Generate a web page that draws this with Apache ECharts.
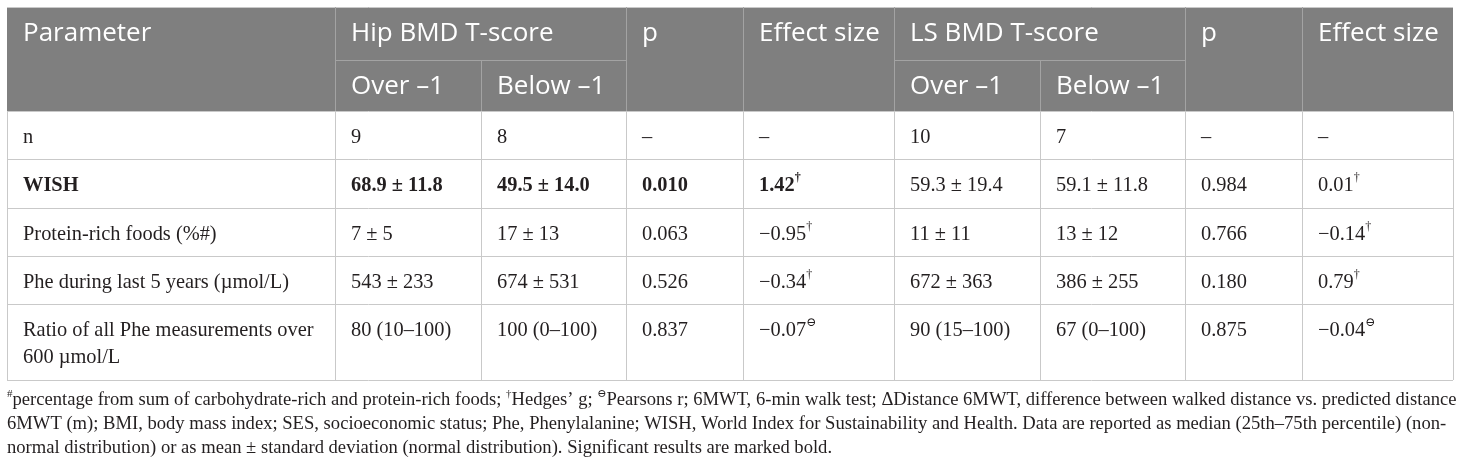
<!DOCTYPE html>
<html>
<head>
<meta charset="utf-8">
<script src="https://cdn.jsdelivr.net/npm/echarts@6/dist/echarts.min.js"></script>
<style>
  html, body { margin: 0; padding: 0; background: #fff; }
  #main { width: 1460px; height: 467px; }
</style>
</head>
<body>
<div id="main"></div>
<script>
// table content
var topHeaders = ['Parameter', 'Hip BMD T-score', 'p', 'Effect size', 'LS BMD T-score', 'p', 'Effect size'];
var subHeaders = ['Over \u20131', 'Below \u20131', 'Over \u20131', 'Below \u20131'];

var rowLabels = ['n', 'WISH', 'Protein-rich foods (%#)', 'Phe during last 5 years (\u00b5mol/L)',
  'Ratio of all Phe measurements over\n600 \u00b5mol/L'];
var hipOver = ['9', '68.9 \u00b1 11.8', '7 \u00b1 5', '543 \u00b1 233', '80 (10\u2013100)'];
var hipBelow = ['8', '49.5 \u00b1 14.0', '17 \u00b1 13', '674 \u00b1 531', '100 (0\u2013100)'];
var hipP = ['\u2013', '0.010', '0.063', '0.526', '0.837'];
var hipEffect = ['\u2013', '1.42', '\u22120.95', '\u22120.34', '\u22120.07'];
var hipEffectMark = ['', '\u2020', '\u2020', '\u2020', '\u2296'];
var lsOver = ['10', '59.3 \u00b1 19.4', '11 \u00b1 11', '672 \u00b1 363', '90 (15\u2013100)'];
var lsBelow = ['7', '59.1 \u00b1 11.8', '13 \u00b1 12', '386 \u00b1 255', '67 (0\u2013100)'];
var lsP = ['\u2013', '0.984', '0.766', '0.180', '0.875'];
var lsEffect = ['\u2013', '0.01', '\u22120.14', '0.79', '\u22120.04'];
var lsEffectMark = ['', '\u2020', '\u2020', '\u2020', '\u2296'];
var hipSignificant = [false, true, false, false, false];

var footnoteLines = [
  '{s|#}percentage from sum of carbohydrate-rich and protein-rich foods; {s|\u2020}Hedges\u2019 g; {s|\u2296}Pearsons r; 6MWT, 6-min walk test; \u0394Distance 6MWT, difference between walked distance vs. predicted distance',
  '6MWT (m); BMI, body mass index; SES, socioeconomic status; Phe, Phenylalanine; WISH, World Index for Sustainability and Health. Data are reported as median (25th\u201375th percentile) (non-',
  'normal distribution) or as mean \u00b1 standard deviation (normal distribution). Significant results are marked bold.'
];

// layout
var colEdges = [7, 335, 481, 626, 743, 894, 1040, 1185, 1302, 1453];
var headTop = 7, headMid = 60, headBottom = 111;
var rowEdges = [111, 159, 208, 256, 304, 380];
var padX = 16;
var headFont = '"Open Sans", "Noto Sans", sans-serif';
var bodyFont = '"Liberation Serif", "DejaVu Serif", serif';
var headBg = '#7f7f7f', headLine = '#a3a3a3', bodyLine = '#c9c9c9', ink = '#231f20';

var chart = echarts.init(document.getElementById('main'));
var els = [];

function line(x1, y1, x2, y2, color) {
  els.push({ type: 'line', silent: true,
    shape: { x1: x1, y1: y1, x2: x2, y2: y2 },
    style: { stroke: color, lineWidth: 1 } });
}
function headText(x, y, t) {
  els.push({ type: 'text', x: x, y: y, silent: true,
    style: { text: t, fill: '#fff', fontSize: 26, fontFamily: headFont,
      align: 'left', verticalAlign: 'middle' } });
}
function bodyText(x, y, t, bold) {
  els.push({ type: 'text', x: x, y: y, silent: true,
    style: { text: t, fill: ink, fontSize: 20.4, fontFamily: bodyFont,
      fontWeight: bold ? 'bold' : 'normal', lineHeight: 27,
      align: 'left', verticalAlign: 'top',
      rich: { s: { fontSize: 12, fontFamily: bodyFont, fill: ink, verticalAlign: 'top', lineHeight: 13,
        fontWeight: bold ? 'bold' : 'normal' } } } });
}

// header background and lines
els.push({ type: 'rect', silent: true,
  shape: { x: colEdges[0], y: headTop, width: colEdges[9] - colEdges[0], height: headBottom - headTop },
  style: { fill: headBg } });
line(colEdges[0], headTop + 0.5, colEdges[9], headTop + 0.5, bodyLine);
[1, 3, 4, 5, 7, 8].forEach(function (c) { line(colEdges[c] + 0.5, headTop, colEdges[c] + 0.5, headBottom, headLine); });
[2, 6].forEach(function (c) { line(colEdges[c] + 0.5, headMid, colEdges[c] + 0.5, headBottom, headLine); });
line(colEdges[1], headMid + 0.5, colEdges[3], headMid + 0.5, headLine);
line(colEdges[5], headMid + 0.5, colEdges[7], headMid + 0.5, headLine);

var topCols = [0, 1, 3, 4, 5, 7, 8];
topHeaders.forEach(function (h, i) { headText(colEdges[topCols[i]] + padX, 34, h); });
var subCols = [1, 2, 5, 6];
subHeaders.forEach(function (h, i) { headText(colEdges[subCols[i]] + padX, 87, h); });

// body grid
rowEdges.forEach(function (y) { line(colEdges[0], y + 0.5, colEdges[9], y + 0.5, bodyLine); });
colEdges.forEach(function (x) { line(x + 0.5, headBottom, x + 0.5, rowEdges[rowEdges.length - 1], bodyLine); });

// body cells
var columns = [rowLabels, hipOver, hipBelow, hipP, hipEffect, lsOver, lsBelow, lsP, lsEffect];
rowLabels.forEach(function (_, r) {
  var y = rowEdges[r] + 13;
  columns.forEach(function (col, c) {
    var t = col[r];
    if (c === 4 && hipEffectMark[r]) t += '{s|' + hipEffectMark[r] + '}';
    if (c === 8 && lsEffectMark[r]) t += '{s|' + lsEffectMark[r] + '}';
    var bold = hipSignificant[r] && c <= 4;
    bodyText(colEdges[c] + padX, y, t, bold);
  });
});

// footnote
footnoteLines.forEach(function (t, i) {
  els.push({ type: 'text', x: 7, y: 400 + i * 24, silent: true,
    style: { text: t, fill: ink, fontSize: 18.6, fontFamily: bodyFont,
      align: 'left', verticalAlign: 'middle', lineHeight: 22,
      rich: { s: { fontSize: 11, fontFamily: bodyFont, fill: ink, verticalAlign: 'top', lineHeight: 12 } } } });
});

chart.setOption({ animation: false, graphic: { elements: els } });
</script>
</body>
</html>
